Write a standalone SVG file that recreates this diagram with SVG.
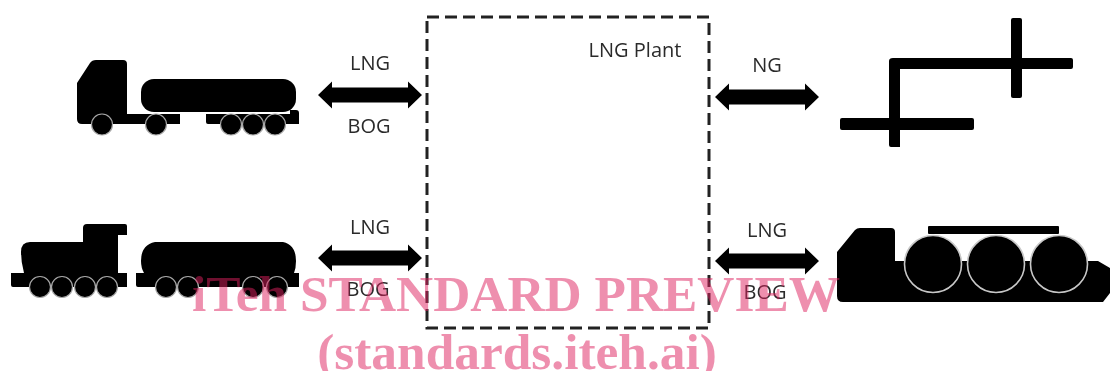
<svg xmlns="http://www.w3.org/2000/svg" width="1110" height="371" viewBox="0 0 1110 371">
<style>
.s{fill:#000}
.w{fill:#000;stroke:#a8a8a8;stroke-width:1.2}
.r{fill:#000;stroke:#c8c8c8;stroke-width:1.6}
.l{font:20px "Open Sans","Noto Sans",sans-serif;fill:#2b2b2b;text-anchor:middle}
.m{font:bold 51.4px "Liberation Serif",serif;fill:#dd1f5d;fill-opacity:.5;text-anchor:middle}
.a{fill:#000}
</style>
<defs>
<filter id="soft" x="-2%" y="-2%" width="104%" height="104%"><feGaussianBlur stdDeviation="0.5"/></filter>
<path id="arr" d="M0 0L14 -13.5V-7.5H90V-13.5L104 0L90 13.5V7.5H14V13.5Z"/>
</defs>
<rect width="1110" height="371" fill="#fff"/>
<g filter="url(#soft)">
<g id="plant">
<rect x="427" y="17" width="282" height="311" fill="none" stroke="#222" stroke-width="3" stroke-dasharray="12 6"/>
<text class="l" x="635" y="57">LNG Plant</text>
</g>
<g id="truck">
<path class="s" d="M77 83L90 63Q92 60 96 60H123Q127 60 127 64V114H180V124H82Q77 124 77 119Z"/>
<rect class="s" x="141" y="79" width="155" height="33" rx="13"/>
<path class="s" d="M206 114H290V110H296Q299 110 299 113V124H208Q206 124 206 122Z"/>
<circle class="w" cx="102" cy="124.5" r="10.5"/><circle class="w" cx="156" cy="124.5" r="10.5"/><circle class="w" cx="231" cy="124.5" r="10.5"/><circle class="w" cx="253" cy="124.5" r="10.5"/><circle class="w" cx="275" cy="124.5" r="10.5"/>
</g>
<g id="train">
<path class="s" d="M83 242V228Q83 224 87 224H125Q127 224 127 226V235H118V273H127V287H13Q11 287 11 285V273H24Q21 262 21 252Q21 242 30 242Z"/>
<circle class="w" cx="40" cy="287" r="10.5"/><circle class="w" cx="62" cy="287" r="10.5"/><circle class="w" cx="85" cy="287" r="10.5"/><circle class="w" cx="107" cy="287" r="10.5"/>
<path class="s" d="M155 242H283Q296 245 296 261Q296 268 294 273H299V287H138Q136 287 136 285V273H144Q141 268 141 261Q141 245 155 242Z"/>
<circle class="w" cx="166" cy="287" r="10.5"/><circle class="w" cx="188" cy="287" r="10.5"/><circle class="w" cx="253" cy="287" r="10.5"/><circle class="w" cx="277" cy="287" r="10.5"/>
</g>
<g id="pipes">
<path class="s" d="M893 58H1071Q1073 58 1073 60V67Q1073 69 1071 69H900V147H891Q889 147 889 145V61Q889 58 893 58Z"/>
<rect class="s" x="840" y="118" width="134" height="12" rx="2"/>
<rect class="s" x="1011" y="18" width="11" height="80" rx="2"/>
</g>
<g id="ship">
<path class="s" d="M837 252L855 230Q857 228 860 228H891Q895 228 895 232V261H1098L1110 268V293L1103 302H843Q837 302 837 296Z"/>
<rect class="s" x="928" y="226" width="131" height="8" rx="1"/>
<circle class="r" cx="933" cy="264" r="28.5"/><circle class="r" cx="996" cy="264" r="28.5"/><circle class="r" cx="1059" cy="264" r="28.5"/>
</g>
<g id="connectors">
<use href="#arr" class="a" x="318" y="95"/>
<use href="#arr" class="a" x="715" y="97"/>
<use href="#arr" class="a" x="318" y="258"/>
<use href="#arr" class="a" x="715" y="261"/>
</g>
<g id="labels">
<text class="l" x="370" y="70">LNG</text>
<text class="l" x="369" y="133">BOG</text>
<text class="l" x="767" y="72">NG</text>
<text class="l" x="370" y="234">LNG</text>
<text class="l" x="368" y="296">BOG</text>
<text class="l" x="767" y="237">LNG</text>
<text class="l" x="765" y="299">BOG</text>
</g>
</g>
<g id="watermark">
<text class="m" x="516" y="311">iTeh STANDARD PREVIEW</text>
<text class="m" x="517" y="369">(standards.iteh.ai)</text>
</g>
</svg>
